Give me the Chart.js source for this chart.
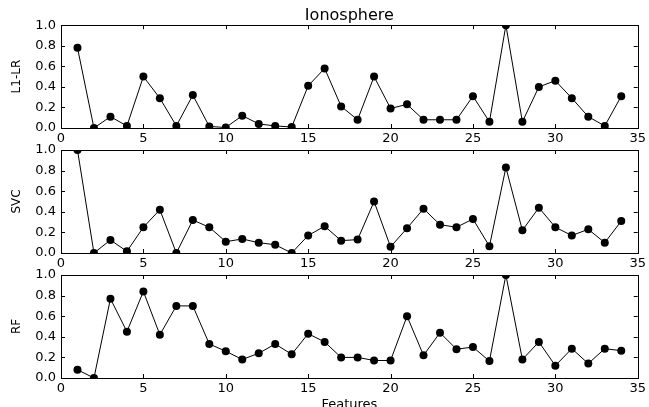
<!DOCTYPE html>
<html>
<head>
<meta charset="utf-8">
<script src="https://cdn.jsdelivr.net/npm/chart.js@4/dist/chart.umd.min.js"></script>
<style>
  html, body { margin: 0; padding: 0; background: #fff; overflow: hidden; }
  #wrap { position: relative; width: 649px; height: 407px; overflow: hidden; }
  canvas { position: absolute; left: 0; }
</style>
</head>
<body>
<div id="wrap">
  <canvas id="c1" width="649" height="150" style="top:0px"></canvas>
  <canvas id="c2" width="649" height="147" style="top:128px"></canvas>
  <canvas id="c3" width="649" height="159" style="top:253px"></canvas>
</div>
<script>
// ---- data ----
const chartTitle = "Ionosphere";
const xAxisTitle = "Features";
const features = [1,2,3,4,5,6,7,8,9,10,11,12,13,14,15,16,17,18,19,20,21,22,23,24,25,26,27,28,29,30,31,32,33,34];
const seriesNames = ["L1-LR", "SVC", "RF"];
const l1lrValues = [0.78,0.00,0.11,0.02,0.50,0.29,0.02,0.32,0.015,0.005,0.12,0.04,0.02,0.01,0.41,0.58,
                    0.21,0.08,0.50,0.19,0.23,0.08,0.08,0.08,0.31,0.06,1.00,0.06,0.40,0.46,0.29,0.11,0.02,0.31];
const svcValues  = [1.00,0.00,0.126,0.016,0.25,0.42,0.00,0.32,0.25,0.11,0.136,0.10,0.08,0.00,0.17,0.26,
                    0.12,0.13,0.50,0.06,0.24,0.43,0.275,0.25,0.33,0.065,0.83,0.22,0.44,0.25,0.17,0.23,0.10,0.31];
const rfValues   = [0.08,0.00,0.77,0.45,0.84,0.42,0.70,0.70,0.33,0.26,0.18,0.24,0.33,0.23,0.43,0.35,
                    0.20,0.20,0.17,0.17,0.60,0.22,0.44,0.28,0.30,0.165,1.00,0.18,0.35,0.12,0.285,0.14,0.285,0.265];
const xTickValues = [0,5,10,15,20,25,30,35];
const yTickValues = [0.0,0.2,0.4,0.6,0.8,1.0];

Chart.defaults.font.family = "'DejaVu Sans', sans-serif";
Chart.defaults.color = '#000';

// inward ticks on all four sides + frame (matplotlib classic look)
const frameTicks = {
  id: 'frameTicks',
  afterDatasetsDraw(chart) {
    const {ctx, chartArea: a, scales: {x, y}} = chart;
    const L = 4;
    ctx.save();
    ctx.strokeStyle = '#000';
    ctx.lineWidth = 1;
    ctx.beginPath();
    x.ticks.forEach(t => {
      const px = Math.round(x.getPixelForValue(t.value)) + 0.5;
      ctx.moveTo(px, a.bottom); ctx.lineTo(px, a.bottom - L);
      ctx.moveTo(px, a.top); ctx.lineTo(px, a.top + L);
    });
    y.ticks.forEach(t => {
      const py = Math.round(y.getPixelForValue(t.value)) + 0.5;
      ctx.moveTo(a.left, py); ctx.lineTo(a.left + L, py);
      ctx.moveTo(a.right, py); ctx.lineTo(a.right - L, py);
    });
    ctx.stroke();
    ctx.strokeRect(Math.round(a.left) + 0.5, Math.round(a.top) + 0.5,
                   Math.round(a.right - a.left), Math.round(a.bottom - a.top));
    ctx.restore();
  }
};

function makeChart(id, label, values, opts) {
  const data = features.map((f, i) => ({x: f, y: values[i]}));
  return new Chart(document.getElementById(id), {
    type: 'line',
    data: {
      datasets: [{
        label: label,
        data: data,
        borderColor: '#000',
        borderWidth: 1,
        backgroundColor: '#000',
        pointBackgroundColor: '#000',
        pointBorderColor: '#000',
        pointRadius: 4,
        pointBorderWidth: 0,
        tension: 0,
        clip: 0
      }]
    },
    options: {
      responsive: false,
      animation: false,
      devicePixelRatio: 1,
      events: [],
      layout: { padding: { left: 0, right: 10, top: opts.padTop, bottom: 0 } },
      plugins: {
        legend: { display: false },
        tooltip: { enabled: false },
        title: opts.title ? {
          display: true, text: opts.title, fullSize: false,
          font: { size: 16, weight: 'normal' }, color: '#000',
          padding: { top: 6, bottom: 0 }
        } : { display: false }
      },
      scales: {
        x: {
          type: 'linear', min: 0, max: 35,
          afterBuildTicks: s => { s.ticks = xTickValues.map(v => ({value: v})); },
          ticks: { font: { size: 13 }, color: '#000', padding: 3, maxRotation: 0, autoSkip: false },
          grid: { display: false, drawTicks: false },
          border: { display: false },
          title: opts.xTitle ? { display: true, text: opts.xTitle, font: { size: 13 }, color: '#000', padding: { top: 0, bottom: 0 } } : { display: false },
          afterFit: s => { s.height = opts.xHeight; }
        },
        y: {
          type: 'linear', min: 0, max: 1,
          afterBuildTicks: s => { s.ticks = yTickValues.map(v => ({value: v})); },
          ticks: { font: { size: 13 }, color: '#000', padding: 5, callback: v => Number(v).toFixed(1) },
          grid: { display: false, drawTicks: false },
          border: { display: false },
          title: { display: true, text: label, font: { size: 12 }, color: '#000', padding: { top: 10, bottom: 0 } },
          afterFit: s => { s.width = 61; }
        }
      }
    },
    plugins: [frameTicks]
  });
}

makeChart('c1', seriesNames[0], l1lrValues, { title: chartTitle, padTop: 0, xHeight: 22 });
makeChart('c2', seriesNames[1], svcValues, { padTop: 22, xHeight: 22 });
makeChart('c3', seriesNames[2], rfValues, { padTop: 22, xHeight: 34, xTitle: xAxisTitle });
</script>
</body>
</html>
